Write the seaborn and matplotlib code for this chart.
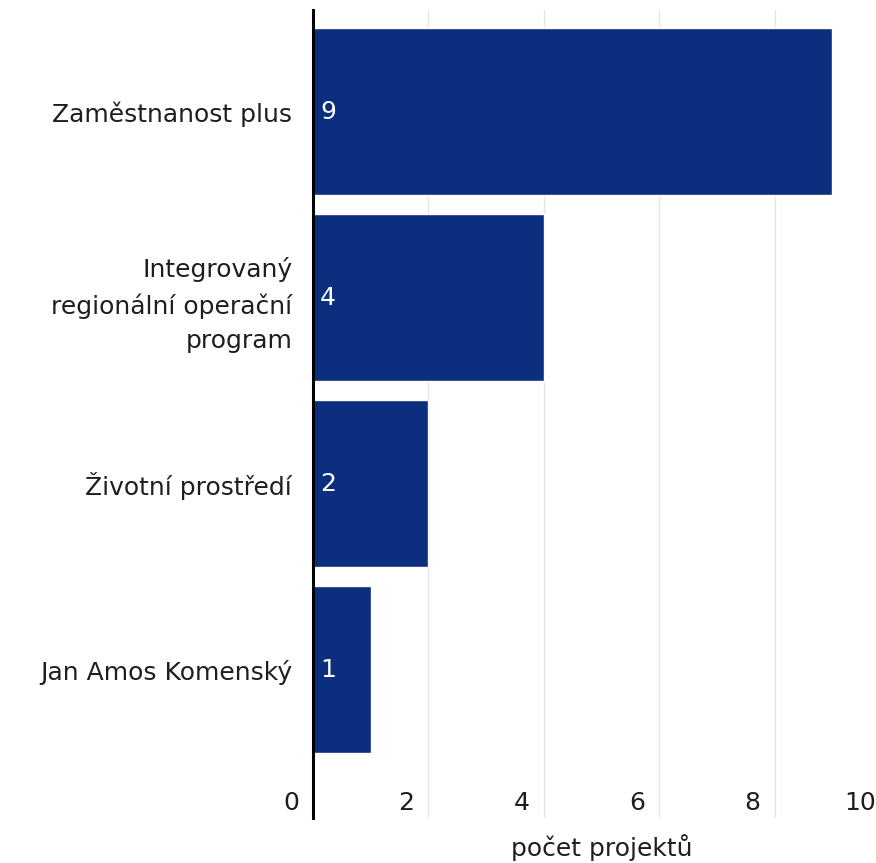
import matplotlib
matplotlib.use("Agg")
import matplotlib.pyplot as plt
import matplotlib.transforms as mtransforms
import seaborn as sns
import pandas as pd

categories = ["Zaměstnanost plus",
              "Integrovaný\nregionální operační\nprogram",
              "Životní prostředí",
              "Jan Amos Komenský"]
values = [9, 4, 2, 1]
x_ticks = [0, 2, 4, 6, 8, 10]
x_label = "počet projektů"

sns.set_theme(style="white")
plt.rcParams['font.family'] = ['DejaVu Sans']

BAR = "#0b2e7e"
TXT = "#1e1e1e"
FS = 18

df = pd.DataFrame({"program": categories, "count": values})

fig = plt.figure(figsize=(8.76, 8.63), dpi=100)
W, H = 876, 863
ax = fig.add_axes([313 / W, (H - 818) / H, 577 / W, 808 / H])

sns.barplot(data=df, y="program", x="count", orient="h", color=BAR,
            width=0.9, saturation=1, ax=ax, zorder=3)

ax.set_xlim(0, 10)
ax.set_ylim(3.798, -0.5457)
ax.set_xticks(x_ticks)
ax.set_xticklabels([str(t) for t in x_ticks])

for s in ["top", "right", "bottom"]:
    ax.spines[s].set_visible(False)
ax.spines["left"].set_color("black")
ax.spines["left"].set_linewidth(2.2)
ax.spines["left"].set_zorder(5)

ax.grid(axis="x", color="#e6e6e6", linewidth=1.0, zorder=0)
ax.grid(axis="y", visible=False)
ax.set_axisbelow(True)

ax.tick_params(axis="both", length=0)
ax.tick_params(axis="y", pad=15, labelsize=FS, labelcolor=TXT)
ax.tick_params(axis="x", labelsize=FS, labelcolor=TXT)
for lbl in ax.get_yticklabels():
    lbl.set_ha("right")
    lbl.set_multialignment("right")
    lbl.set_linespacing(1.55)

offset = mtransforms.ScaledTranslation(-14 / 100, 20 / 100, fig.dpi_scale_trans)
for lbl in ax.get_xticklabels():
    lbl.set_ha("right")
    lbl.set_va("center")
    lbl.set_transform(lbl.get_transform() + offset)

ax.set_ylabel("")
ax.set_xlabel(x_label, fontsize=FS, color=TXT)
ax.xaxis.set_label_coords(0.5, -0.037)
ax.xaxis.label.set_va("center")

for i, v in enumerate(values):
    ax.annotate(str(v), xy=(0, i), xytext=(7, 0), textcoords="offset pixels",
                ha="left", va="center", color="white", fontsize=FS, zorder=6)

fig.savefig("out.png", dpi=100)
